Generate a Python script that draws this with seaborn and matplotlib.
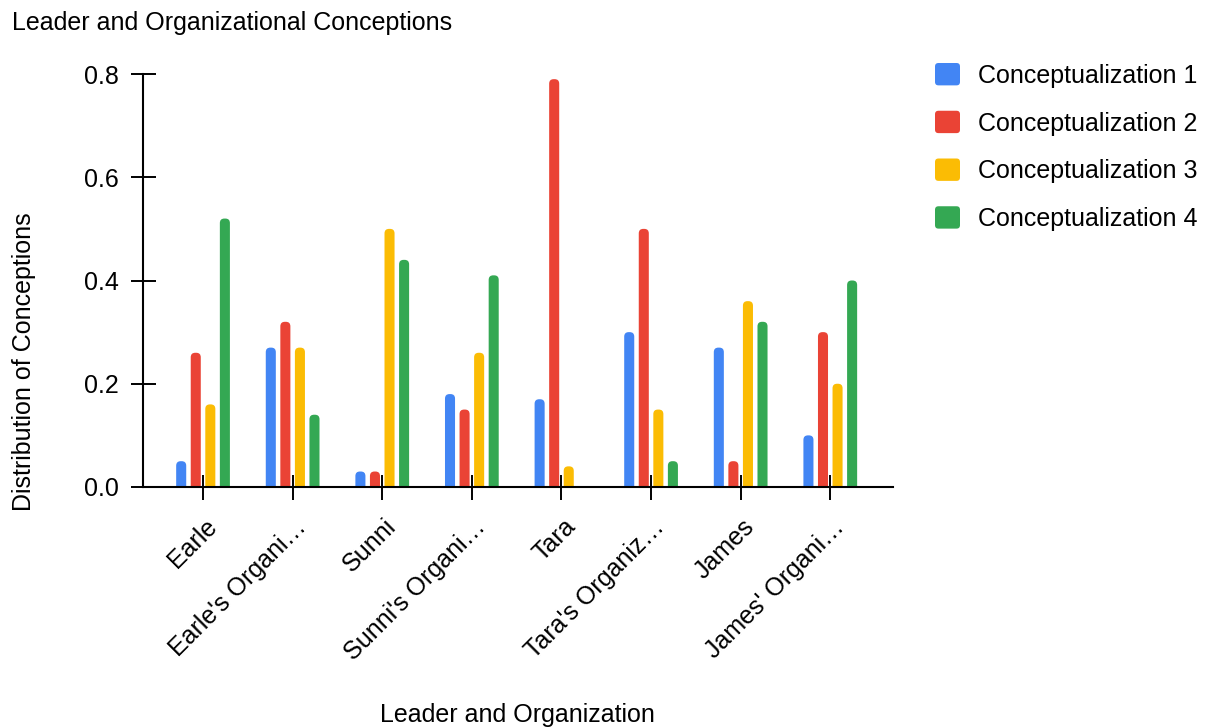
import matplotlib
matplotlib.use("Agg")
import matplotlib.pyplot as plt
import matplotlib.transforms as mtransforms
from matplotlib.patches import FancyBboxPatch, Rectangle, Patch
from matplotlib.legend_handler import HandlerPatch
import seaborn as sns
import pandas as pd

# Categories and series values
categories = ["Earle", "Earle's Organization", "Sunni", "Sunni's Organization",
              "Tara", "Tara's Organization", "James", "James' Organization"]
tick_labels = ["Earle", "Earle's Organi…", "Sunni", "Sunni's Organi…",
               "Tara", "Tara's Organiz…", "James", "James' Organi…"]
series_names = ["Conceptualization 1", "Conceptualization 2",
                "Conceptualization 3", "Conceptualization 4"]
concept_1 = [0.05, 0.27, 0.03, 0.18, 0.17, 0.30, 0.27, 0.10]
concept_2 = [0.26, 0.32, 0.03, 0.15, 0.79, 0.50, 0.05, 0.30]
concept_3 = [0.16, 0.27, 0.50, 0.26, 0.04, 0.15, 0.36, 0.20]
concept_4 = [0.52, 0.14, 0.44, 0.41, 0.00, 0.05, 0.32, 0.40]
colors = ["#4285F4", "#EA4335", "#FBBC04", "#34A853"]

rows = []
for name, vals in zip(series_names, [concept_1, concept_2, concept_3, concept_4]):
    for cat, v in zip(categories, vals):
        rows.append({"group": cat, "series": name, "value": v})
df = pd.DataFrame(rows)

sns.set_theme(style="white")
plt.rcParams["font.family"] = ["Liberation Sans", "DejaVu Sans"]

W, H = 1210, 728
fig = plt.figure(figsize=(W / 100, H / 100), dpi=100)
ax = fig.add_axes([143 / W, 1 - 487 / H, (893 - 143) / W, (487 - 74) / H])

sns.barplot(data=df, x="group", y="value", hue="series", order=categories,
            hue_order=series_names, palette=colors, saturation=1,
            width=0.65, gap=0.31, linewidth=0, ax=ax, legend=True)

# Legend proxies copied from seaborn's own handles before the bars are restyled
handles, labels = ax.get_legend_handles_labels()
proxies = [Patch(facecolor=h.get_facecolor(), edgecolor="none") for h in handles]
ax.get_legend().remove()

ax.set_xlim(-0.67, 7.70)
ax.set_ylim(0, 0.8)

# Give each bar a rounded top: redraw it as a rounded box that starts
# slightly below the baseline (the axes clip hides the lower corners).
x_px = (893 - 143) / (7.70 + 0.67)
y_px = (487 - 74) / 0.8
radius = 4.5 / x_px
aspect = x_px / y_px
below = 6 / y_px
for bar in [p for p in ax.patches if isinstance(p, Rectangle)]:
    h = bar.get_height()
    bar.set_visible(False)
    if h <= 0:
        continue
    rounded = FancyBboxPatch((bar.get_x(), -below), bar.get_width(), h + below,
                             boxstyle=f"round,pad=0,rounding_size={radius}",
                             mutation_aspect=aspect, facecolor=bar.get_facecolor(),
                             edgecolor="none", linewidth=0, zorder=bar.get_zorder())
    ax.add_patch(rounded)

ax.set_yticks([0, 0.2, 0.4, 0.6, 0.8])
ax.set_yticklabels(["0.0", "0.2", "0.4", "0.6", "0.8"])
ax.set_xticks(range(len(categories)))
ax.set_xticklabels(tick_labels, rotation=45, ha="right", va="center",
                   rotation_mode="anchor")
ax.set_xlabel("")
ax.set_ylabel("")

for s in ["top", "right"]:
    ax.spines[s].set_visible(False)
for s in ["left", "bottom"]:
    ax.spines[s].set_color("black")
    ax.spines[s].set_linewidth(1.5)

ax.tick_params(axis="y", direction="inout", length=18, width=1.4,
               color="black", pad=8.5, labelsize=18, labelcolor="black", left=True)
ax.tick_params(axis="x", direction="inout", length=18, width=1.4,
               color="black", pad=17, labelsize=18, labelcolor="black", bottom=True)

shift = mtransforms.ScaledTranslation(10 / 100, 0, fig.dpi_scale_trans)
for lbl in ax.get_xticklabels():
    lbl.set_transform(lbl.get_transform() + shift)


class RoundedSquare(HandlerPatch):
    def create_artists(self, legend, orig_handle, xdescent, ydescent,
                       width, height, fontsize, trans):
        box = FancyBboxPatch((-xdescent, -ydescent), width, height,
                             boxstyle="round,pad=0,rounding_size=2.5",
                             facecolor=orig_handle.get_facecolor(),
                             edgecolor="none", transform=trans)
        return [box]


fig.legend(proxies, labels, loc="upper left",
           bbox_to_anchor=(935 / W, 1 - 63 / H), frameon=False,
           fontsize=18, labelcolor="black", handlelength=1.0, handleheight=1.0,
           handletextpad=0.7, labelspacing=0.92, borderpad=0, borderaxespad=0,
           handler_map={Patch: RoundedSquare()})

fig.text(12 / W, 1 - 23 / H, "Leader and Organizational Conceptions",
         ha="left", va="center", fontsize=18, color="black")
fig.text(517 / W, 1 - 715 / H, "Leader and Organization",
         ha="center", va="center", fontsize=18, color="black")
fig.text(24 / W, 1 - 362 / H, "Distribution of Conceptions", rotation=90,
         ha="center", va="center", fontsize=18, color="black")

fig.savefig("out.png", dpi=100, facecolor="white")
